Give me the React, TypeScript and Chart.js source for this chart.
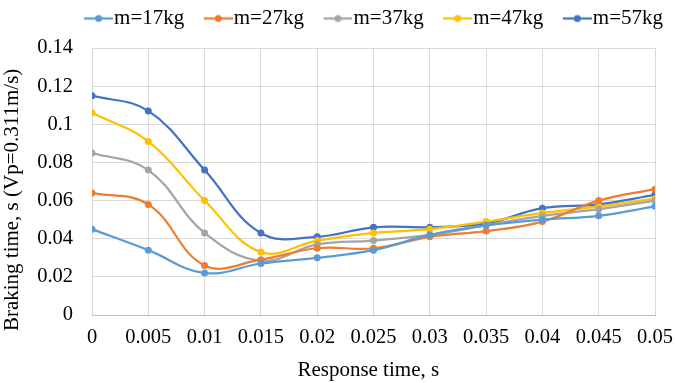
import React, { useEffect, useRef } from "react";
import { Chart, registerables } from "chart.js";

Chart.register(...registerables);

const responseTimes = [0, 0.005, 0.01, 0.015, 0.02, 0.025, 0.03, 0.035, 0.04, 0.045, 0.05];
const seriesNames = ["m=17kg", "m=27kg", "m=37kg", "m=47kg", "m=57kg"];
const m17 = [0.045, 0.034, 0.022, 0.027, 0.030, 0.034, 0.042, 0.047, 0.050, 0.052, 0.057];
const m27 = [0.064, 0.058, 0.026, 0.029, 0.035, 0.035, 0.041, 0.044, 0.049, 0.060, 0.066];
const m37 = [0.085, 0.076, 0.043, 0.0285, 0.037, 0.039, 0.042, 0.047, 0.052, 0.0555, 0.060];
const m47 = [0.106, 0.091, 0.060, 0.033, 0.039, 0.043, 0.045, 0.049, 0.0535, 0.057, 0.061];
const m57 = [0.115, 0.107, 0.076, 0.043, 0.041, 0.046, 0.046, 0.048, 0.056, 0.058, 0.063];
const colors = ["#5B9BD5", "#ED7D31", "#A5A5A5", "#FFC000", "#4472C4"];
const xTitle = "Response time, s";
const yTitle = "Braking time, s (Vp=0.311m/s)";

function legendIcon(color: string): HTMLCanvasElement {
  // 46px wide canvas, centered by Chart.js; the visible marker sits in its right 29px
  const c = document.createElement("canvas");
  c.width = 46;
  c.height = 10;
  const ctx = c.getContext("2d")!;
  ctx.strokeStyle = color;
  ctx.lineWidth = 2.25;
  ctx.beginPath();
  ctx.moveTo(17, 5);
  ctx.lineTo(46, 5);
  ctx.stroke();
  ctx.fillStyle = color;
  ctx.beginPath();
  ctx.arc(31.5, 5, 3.5, 0, Math.PI * 2);
  ctx.fill();
  return c;
}

export default function App() {
  const ref = useRef<HTMLCanvasElement | null>(null);
  useEffect(() => {
    if (!ref.current) return;
    const all = [m17, m27, m37, m47, m57];
    const font = "'Liberation Serif', 'Times New Roman', serif";
    const fmt = (v: any) => String(Number(Number(v).toFixed(4)));
    const chart = new Chart(ref.current, {
      type: "line",
      data: {
        datasets: all.map((vals, i) => ({
          label: seriesNames[i],
          data: vals.map((v, j) => ({ x: responseTimes[j], y: v })),
          borderColor: colors[i],
          backgroundColor: colors[i],
          borderWidth: 2.25,
          pointRadius: 3.5,
          pointHoverRadius: 3.5,
          pointBorderWidth: 0,
          tension: 0.4,
          fill: false,
        })),
      },
      options: {
        animation: false,
        responsive: false,
        layout: { padding: { left: 0, right: 0, top: -4, bottom: 0 } },
        plugins: {
          tooltip: { enabled: false },
          title: {
            // empty spacer between legend and plot area
            display: true,
            text: "",
            position: "top",
            weight: 500,
            font: { size: 5 },
            padding: { top: 0, bottom: 3 },
          },
          legend: {
            position: "top",
            align: "end",
            labels: {
              color: "#000",
              font: { family: font, size: 21 },
              usePointStyle: true,
              pointStyleWidth: 27,
              padding: 12,
              generateLabels: (ch: any) =>
                ch.data.datasets.map((d: any, i: number) => ({
                  text: d.label,
                  fillStyle: colors[i],
                  strokeStyle: colors[i],
                  lineWidth: 0,
                  pointStyle: legendIcon(colors[i]),
                  datasetIndex: i,
                  hidden: false,
                  fontColor: "#000",
                })),
            },
          },
        },
        scales: {
          x: {
            type: "linear",
            min: 0,
            max: 0.05,
            afterFit: (s: any) => {
              s.height = 68;
              s.paddingRight = 20;
            },
            ticks: {
              stepSize: 0.005,
              color: "#000",
              font: { family: font, size: 20.5 },
              maxRotation: 0,
              autoSkip: false,
              padding: 10,
              callback: fmt,
            },
            grid: { color: "#D9D9D9", lineWidth: 1, drawTicks: false },
            border: { color: "#BFBFBF" },
            title: {
              display: true,
              text: xTitle + "  ",
              color: "#000",
              font: { family: font, size: 21 },
              padding: { top: 0, bottom: 0 },
            },
          },
          y: {
            min: 0,
            max: 0.14,
            afterFit: (s: any) => {
              s.width = 92;
              s.paddingTop = 48;
            },
            ticks: {
              stepSize: 0.02,
              color: "#000",
              font: { family: font, size: 20.5 },
              padding: 19,
              callback: fmt,
            },
            grid: { color: "#D9D9D9", lineWidth: 1, drawTicks: false },
            border: { display: false },
            title: {
              display: true,
              text: yTitle + "       ",
              color: "#000",
              font: { family: font, size: 21 },
              padding: { top: 0, bottom: 0 },
            },
          },
        },
      },
    });
    return () => chart.destroy();
  }, []);
  return (
    <div style={{ position: "absolute", left: 0, top: 0, width: 675, height: 383, background: "#fff" }}>
      <canvas ref={ref} width={675} height={383} />
    </div>
  );
}
